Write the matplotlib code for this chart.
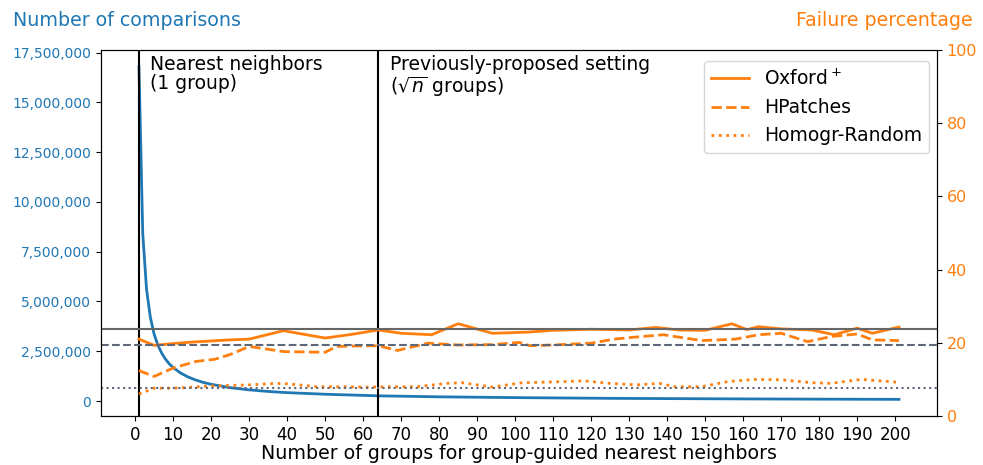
import matplotlib
matplotlib.use('Agg')
import matplotlib.pyplot as plt
import matplotlib.ticker as mticker
import matplotlib.transforms as mtransforms

# number of comparisons (left axis)
groups_cmp = [1, 2, 3, 4, 5, 6, 7, 8, 9, 10, 12, 14, 16, 18, 20, 25, 30, 35, 40, 50, 64, 80, 100, 125, 150, 175, 201]
comparisons = [16800000, 8400000, 5600000, 4200000, 3350000, 2800000, 2400000, 2100000, 1860000, 1680000,
               1400000, 1200000, 1050000, 930000, 840000, 670000, 560000, 480000, 420000, 340000,
               260000, 210000, 170000, 134000, 112000, 96000, 83000]

# failure percentages (right axis)
groups_ox = [1, 5, 10, 15, 20, 25, 30, 39, 50, 57, 64, 70, 78, 85, 94, 103, 110, 120, 130, 137,
             143, 150, 157, 161, 164, 170, 178, 184, 190, 194, 201]
oxford = [21.0, 19.3, 19.8, 20.2, 20.5, 20.8, 21.0, 23.3, 21.3, 22.3, 23.5, 22.6, 22.2, 25.2, 22.6, 22.9,
          23.4, 23.7, 23.5, 24.2, 23.5, 23.4, 25.2, 23.6, 24.4, 23.8, 23.5, 22.2, 24.0, 22.6, 24.3]

groups_hp = [1, 5, 10, 16, 21, 25, 30, 39, 50, 53, 57, 64, 69, 77, 85, 94, 101, 104, 110, 120,
             126, 131, 139, 149, 158, 164, 170, 177, 183, 190, 194, 201]
hpatches = [12.4, 10.8, 13.1, 14.9, 15.5, 16.8, 19.0, 17.6, 17.4, 19.0, 19.1, 19.2, 17.9, 19.9, 19.4, 19.5,
            20.1, 19.2, 19.4, 19.9, 21.0, 21.5, 22.2, 20.6, 21.0, 22.2, 22.6, 20.3, 21.7, 22.4, 20.8, 20.6]

groups_hr = [1, 5, 10, 15, 20, 30, 37, 40, 48, 55, 61, 68, 74, 82, 86, 94, 102, 110, 118, 125,
             132, 138, 142, 149, 156, 163, 170, 178, 183, 191, 201]
homogr = [6.0, 7.6, 7.6, 7.9, 8.2, 8.5, 8.9, 8.8, 8.0, 8.0, 7.9, 8.0, 8.0, 8.9, 9.1, 7.9, 9.1, 9.3, 9.6, 8.9,
          8.5, 8.9, 8.0, 8.0, 9.4, 10.0, 9.9, 9.1, 8.9, 10.0, 9.2]

# reference levels
ref_oxford = 23.7
ref_hpatches = 19.4
ref_homogr = 7.7

blue = '#1f77b4'
orange = '#ff7f0e'

fig = plt.figure(figsize=(9.83, 4.65), dpi=100)
ax = fig.add_axes([0.1027, 0.1054, 0.8505, 0.7871])
ax2 = ax.twinx()

ax.plot(groups_cmp, comparisons, color=blue, lw=2)
ax.axvline(1, color='black', lw=1.5)
ax.axvline(64, color='black', lw=1.5)

ax.set_xticks(range(0, 201, 10))
ax.tick_params(axis='x', labelsize=12)
ax.tick_params(axis='y', labelsize=10, labelcolor=blue)
ax.yaxis.set_major_locator(mticker.MultipleLocator(2500000))
ax.yaxis.set_major_formatter(mticker.FuncFormatter(lambda v, p: f'{v:,.0f}'))
ax.set_xlabel('Number of groups for group-guided nearest neighbors', fontsize=13.7, labelpad=0)

trans = mtransforms.blended_transform_factory(ax.transData, ax.transAxes)
ax.text(4.0, 0.985, 'Nearest neighbors\n(1 group)', transform=trans, va='top', ha='left',
        fontsize=13.5, linespacing=1.0)
ax.text(67.0, 0.985, 'Previously-proposed setting\n($\\sqrt{n}$ groups)', transform=trans,
        va='top', ha='left', fontsize=13.5, linespacing=1.0)

ax2.plot(groups_ox, oxford, color=orange, lw=2, ls='-', label='Oxford$^+$')
ax2.plot(groups_hp, hpatches, color=orange, lw=2, ls='--', label='HPatches')
ax2.plot(groups_hr, homogr, color=orange, lw=2, ls=':', label='Homogr-Random')
ax2.axhline(ref_oxford, color='#666666', lw=1.5, ls='-')
ax2.axhline(ref_hpatches, color='#5d6778', lw=1.5, ls='--')
ax2.axhline(ref_homogr, color='#5d6778', lw=1.5, ls=':')
ax2.set_ylim(0, 100)
ax2.tick_params(axis='y', labelsize=11.5, labelcolor=orange)
ax2.legend(loc='upper right', fontsize=13.5, bbox_to_anchor=(1.0, 0.99), borderaxespad=0.4)

fig.text(13 / 983, 1 - 20 / 465, 'Number of comparisons', color=blue, fontsize=13.7, va='center', ha='left')
fig.text(973 / 983, 1 - 20 / 465, 'Failure percentage', color=orange, fontsize=13.7, va='center', ha='right')

fig.savefig('out.png', dpi=100)
